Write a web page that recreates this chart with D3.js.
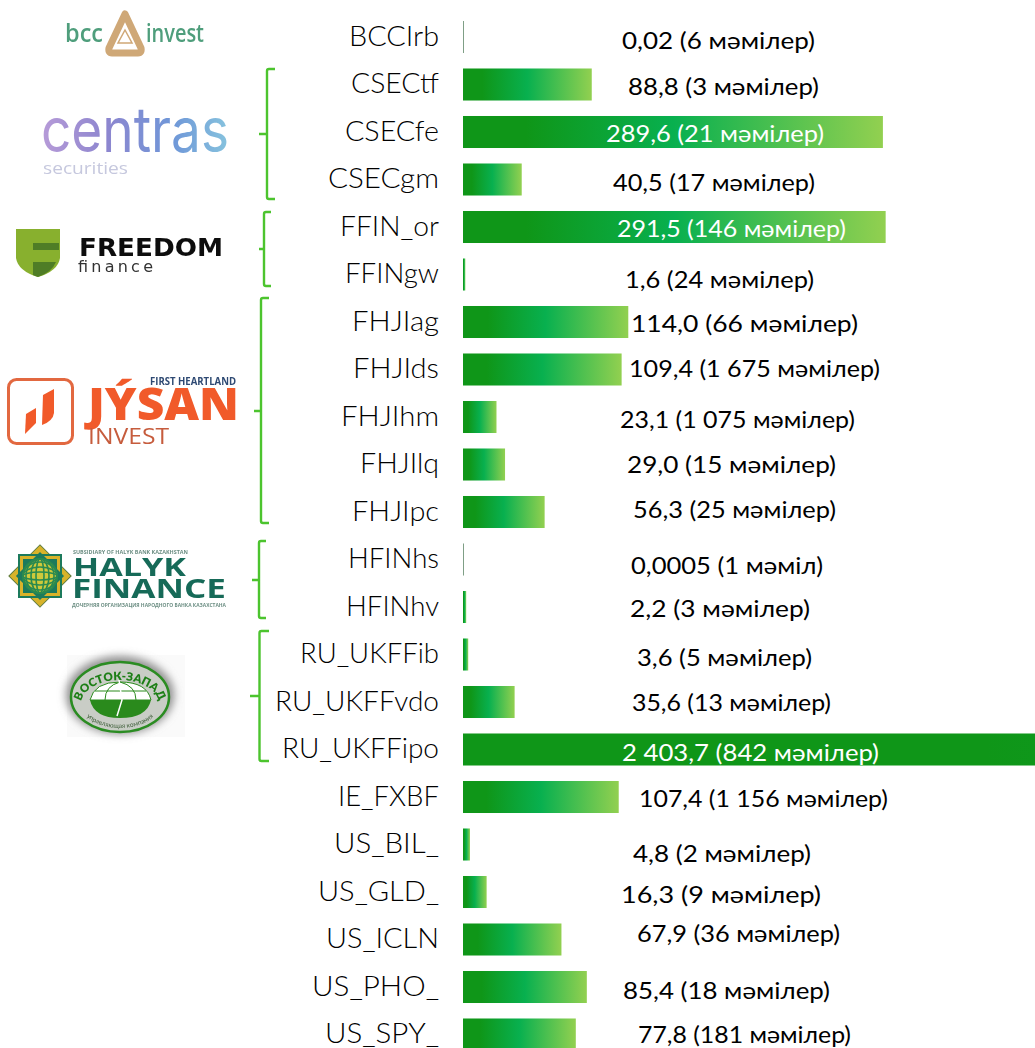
<!DOCTYPE html>
<html>
<head>
<meta charset="utf-8">
<script src="https://cdn.jsdelivr.net/npm/d3@7"></script>
<style>
body { margin: 0; background: #fff; overflow: hidden; }
svg { display: block; }
text { font-family: "Lato", "Open Sans", sans-serif; }
</style>
</head>
<body>
<div id="chart"></div>
<script>
const tickers = ["BCCIrb", "CSECtf", "CSECfe", "CSECgm", "FFIN_or", "FFINgw", "FHJIag", "FHJIds", "FHJIhm", "FHJIlq", "FHJIpc", "HFINhs", "HFINhv", "RU_UKFFib", "RU_UKFFvdo", "RU_UKFFipo", "IE_FXBF", "US_BIL_", "US_GLD_", "US_ICLN", "US_PHO_", "US_SPY_"];
const volumes = [0.02, 88.8, 289.6, 40.5, 291.5, 1.6, 114.0, 109.4, 23.1, 29.0, 56.3, 0.0005, 2.2, 3.6, 35.6, 2403.7, 107.4, 4.8, 16.3, 67.9, 85.4, 77.8];
const volumeLabels = ["0,02", "88,8", "289,6", "40,5", "291,5", "1,6", "114,0", "109,4", "23,1", "29,0", "56,3", "0,0005", "2,2", "3,6", "35,6", "2 403,7", "107,4", "4,8", "16,3", "67,9", "85,4", "77,8"];
const deals = ["6", "3", "21", "17", "146", "24", "66", "1 675", "1 075", "15", "25", "1", "3", "5", "13", "842", "1 156", "2", "9", "36", "18", "181"];

// hand placed labels, they don't follow the bars in the original
const labelLeft = [622, 628, 606, 613, 617, 625, 631, 629, 620, 627, 633, 631, 630, 637, 632, 622, 639, 633, 621, 637, 623, 638];
const labelWidth = [193, 191, 218, 202, 229, 189, 227, 251, 235, 209, 203, 192, 180, 175, 199, 257, 249, 178, 200, 203, 207, 213];
const labelMiddle = [40, 86, 133, 182, 228, 279, 323, 368, 419, 464, 509, 565, 608, 657, 702, 752, 798, 853, 894, 933, 990, 1034];
const tickerWidth = [90, 88, 94, 111, 99, 94, 87, 86, 98, 79, 87, 91, 93, 139, 164, 157, 101, 105, 121, 113, 127, 114];

const width = 1035;
const height = 1048;

const svg = d3
	.select("#chart")
	.append("svg")
	.attr("width", width)
	.attr("height", height);

const defs = svg.append("defs");

const y = d3
	.scaleBand()
	.domain(tickers)
	.range([13.25, 1058.25])
	.paddingInner(0.326)
	.paddingOuter(0.163);

// axis is cut on the right, the ipo bar runs off the page
const x = d3.scaleLinear().domain([0, 394.5]).range([463, 1035]);

const barWidth = (v) => Math.max(1, Math.min(x(v), width) - x(0));

const rows = tickers.map((t, i) => ({
	ticker: t,
	tickerLen: tickerWidth[i],
	value: volumes[i],
	text: `${volumeLabels[i]} (${deals[i]} ${deals[i] === "1" ? "мәміл" : "мәмілер"})`,
	left: labelLeft[i],
	textWidth: labelWidth[i],
	middle: labelMiddle[i],
	inside: i === 2 || i === 4 || i === 15,
	id: "bar-grad-" + i,
}));

// Gradients run over the full value so the cut bar stays dark
const grads = defs
	.selectAll("linearGradient.bar")
	.data(rows)
	.enter()
	.append("linearGradient")
	.attr("class", "bar")
	.attr("id", (d) => d.id)
	.attr("gradientUnits", "userSpaceOnUse")
	.attr("x1", x(0))
	.attr("x2", (d) => x(0) + Math.max(1, x(d.value) - x(0)))
	.attr("y1", 0)
	.attr("y2", 0);
[
	[0.15, "#0f9618"],
	[0.5, "#08b04f"],
	[1, "#92d050"],
].forEach(([o, c]) => grads.append("stop").attr("offset", o).attr("stop-color", c));

const chart = svg.append("g").attr("class", "bars");

chart
	.selectAll("rect")
	.data(rows)
	.enter()
	.append("rect")
	.attr("x", x(0))
	.attr("y", (d) => y(d.ticker))
	.attr("width", (d) => barWidth(d.value))
	.attr("height", y.bandwidth())
	.attr("fill", (d) => (d.value < 0.1 ? "#7f9f86" : `url(#${d.id})`));

chart
	.selectAll("text.ticker")
	.data(rows)
	.enter()
	.append("text")
	.attr("class", "ticker")
	.attr("x", (d) => 439 - d.tickerLen)
	.attr("y", (d) => y(d.ticker) + y.bandwidth() / 2)
	.attr("dy", "0.33em")
	.attr("font-size", 27)
	.attr("font-weight", 300)
	.attr("textLength", (d) => d.tickerLen)
	.attr("lengthAdjust", "spacingAndGlyphs")
	.attr("fill", "#000")
	.text((d) => d.ticker);

chart
	.selectAll("text.value")
	.data(rows)
	.enter()
	.append("text")
	.attr("class", "value")
	.attr("x", (d) => d.left)
	.attr("y", (d) => d.middle)
	.attr("dy", "0.36em")
	.attr("font-size", 24)
	.attr("textLength", (d) => d.textWidth)
	.attr("lengthAdjust", "spacingAndGlyphs")
	.attr("fill", (d) => (d.inside ? "#fff" : "#000"))
	.text((d) => d.text);

// Braces: spine x, top, bottom, hook end, tip x, tip y
const braces = [
	[267, 69, 199, 275, 259, 134],
	[264, 212, 286, 271, 259, 249],
	[261, 298, 523, 269, 254, 411],
	[259, 541, 618, 266, 252, 580],
	[259.5, 631, 761, 269, 250, 696],
];

svg
	.append("g")
	.selectAll("path")
	.data(braces)
	.enter()
	.append("path")
	.attr("fill", "none")
	.attr("stroke", "#4cc42e")
	.attr("stroke-width", 2.4)
	.attr("d", ([sx, top, bottom, hook, tipX, tipY]) =>
		`M${hook},${top}H${sx + 2}Q${sx},${top} ${sx},${top + 2}V${bottom - 2}Q${sx},${bottom} ${sx + 2},${bottom}H${hook}M${tipX},${tipY}H${sx}`
	);

// small helper for the logo text
function logoText(g, str, opts) {
	return g
		.append("text")
		.attr("x", opts.x)
		.attr("y", opts.y)
		.attr("font-size", opts.size)
		.attr("font-weight", opts.weight || 400)
		.attr("fill", opts.fill)
		.attr("textLength", opts.len)
		.attr("lengthAdjust", opts.adjust || "spacingAndGlyphs")
		.style("font-family", opts.family || '"Open Sans", sans-serif')
		.text(str);
}

const soft = defs.append("filter").attr("id", "soft");
soft.append("feGaussianBlur").attr("stdDeviation", 0.5);
const fuzzy = defs.append("filter").attr("id", "fuzzy").attr("x", "-20%").attr("y", "-20%").attr("width", "140%").attr("height", "140%");
fuzzy.append("feGaussianBlur").attr("stdDeviation", 4);

const logos = svg.append("g").attr("class", "logos").attr("filter", "url(#soft)");

// bcc invest
const bcc = logos.append("g");
logoText(bcc, "bcc", { x: 65, y: 42, size: 25, weight: 600, fill: "#4f9e7c", len: 38 });
logoText(bcc, "invest", { x: 146, y: 42, size: 25, weight: 600, fill: "#4f9e7c", len: 58 });
bcc.append("path")
	.attr("d", "M125,14 L141,48 Q142,53 138,53 L112,53 Q108,53 109,48 Z")
	.attr("fill", "none")
	.attr("stroke", "#cfa877")
	.attr("stroke-width", 7)
	.attr("stroke-linejoin", "round");
bcc.append("path")
	.attr("d", "M125,30 L132,43 H118 Z")
	.attr("fill", "#fff")
	.attr("stroke", "#cfa877")
	.attr("stroke-width", 1.5);

// centras
const centrasGrad = defs.append("linearGradient").attr("id", "centras-grad");
[
	[0, "#b79bd8"],
	[0.35, "#8d86cf"],
	[0.7, "#6f97d8"],
	[1, "#86c3de"],
].forEach(([o, c]) => centrasGrad.append("stop").attr("offset", o).attr("stop-color", c));
const centras = logos.append("g");
logoText(centras, "centras", { x: 41, y: 152, size: 63, weight: 400, fill: "url(#centras-grad)", len: 188, family: "Inter, sans-serif" });
logoText(centras, "securities", { x: 43, y: 174, size: 16, fill: "#c6c8de", len: 85 });

// freedom finance
const freedom = logos.append("g");
freedom.append("path")
	.attr("d", "M16,229 H60 V258 Q58,271 38,277 Q18,271 16,258 Z")
	.attr("fill", "#88b02f");
freedom.append("path").attr("d", "M33,243 H59 V250 H33 Z").attr("fill", "#4f7d25");
freedom.append("path").attr("d", "M33,262 H56 Q52,272 38,277 Q35,276 33,275 Z").attr("fill", "#4f7d25");
logoText(freedom, "FREEDOM", { x: 79, y: 256, size: 24, weight: 700, fill: "#0c0c0c", len: 144, family: '"DejaVu Sans", sans-serif' });
logoText(freedom, "finance", { x: 78, y: 272, size: 16, fill: "#333", len: 75, adjust: "spacing", family: '"DejaVu Sans", sans-serif' });

// jysan
const jysan = logos.append("g");
jysan.append("rect")
	.attr("x", 8.5)
	.attr("y", 379.5)
	.attr("width", 64)
	.attr("height", 64)
	.attr("rx", 8)
	.attr("fill", "none")
	.attr("stroke", "#e2673f")
	.attr("stroke-width", 3);
jysan.append("path").attr("d", "M43,395 L54,389 V413 Q53,421 42,425 Z").attr("fill", "#f15a29");
jysan.append("path").attr("d", "M26,414 L36,408 V423 L25,434 Z").attr("fill", "#f15a29");
logoText(jysan, "JÝSAN", { x: 88, y: 420, size: 45, weight: 800, fill: "#f15a29", len: 151 });
logoText(jysan, "FIRST  HEARTLAND", { x: 150, y: 385, size: 10, weight: 700, fill: "#2f4a73", len: 86 });
logoText(jysan, "INVEST", { x: 88, y: 444, size: 22, weight: 500, fill: "#c65b3c", len: 81 });

// halyk finance
const halyk = logos.append("g");
halyk.append("rect").attr("x", 18).attr("y", 554).attr("width", 44).attr("height", 44).attr("fill", "#d8b32c").attr("stroke", "#5d7a3a").attr("stroke-width", 1).attr("transform", "rotate(45 40 576)");
halyk.append("rect").attr("x", 19).attr("y", 555).attr("width", 42).attr("height", 42).attr("fill", "#d8b32c").attr("stroke", "#1c7a5c").attr("stroke-width", 2);
[0, 45].forEach((a) => {
	halyk.append("rect").attr("x", 23).attr("y", 559).attr("width", 34).attr("height", 34).attr("fill", "#1c7a5c").attr("transform", `rotate(${a} 40 576)`);
});
halyk.append("circle").attr("cx", 40).attr("cy", 576).attr("r", 17).attr("fill", "#cfc93a");
const mesh = halyk.append("g").attr("fill", "none").attr("stroke", "#2a8a50").attr("stroke-width", 1.6);
[4, 9, 14, 17].forEach((d) => {
	mesh.append("ellipse").attr("cx", 40).attr("cy", 576).attr("rx", d).attr("ry", 17);
	mesh.append("ellipse").attr("cx", 40).attr("cy", 576).attr("rx", 17).attr("ry", d);
});
logoText(halyk, "SUBSIDIARY OF HALYK BANK KAZAKHSTAN", { x: 73, y: 554, size: 5, weight: 700, fill: "#6d8f84", len: 115 });
logoText(halyk, "HALYK", { x: 73, y: 576, size: 25, weight: 700, fill: "#176a58", len: 113 });
logoText(halyk, "FINANCE", { x: 72, y: 598, size: 27, weight: 700, fill: "#176a58", len: 154 });
logoText(halyk, "ДОЧЕРНЯЯ ОРГАНИЗАЦИЯ НАРОДНОГО БАНКА КАЗАХСТАНА", { x: 72, y: 607, size: 5, weight: 700, fill: "#6d8f84", len: 154 });

// vostok-zapad
const vostok = logos.append("g");
vostok.append("rect").attr("x", 67).attr("y", 655).attr("width", 118).attr("height", 82).attr("fill", "#fafafa");
vostok.append("ellipse").attr("cx", 120).attr("cy", 695).attr("rx", 54).attr("ry", 39).attr("fill", "#8f8f8f").attr("filter", "url(#fuzzy)");
vostok.append("ellipse").attr("cx", 120).attr("cy", 697).attr("rx", 49).attr("ry", 35).attr("fill", "#c9cdc6").attr("stroke", "#2a8c20").attr("stroke-width", 2.5);
vostok.append("path").attr("d", "M90,700 H151 Q147,718 120,718 Q94,718 90,700 Z").attr("fill", "#2a8a1c");
const globe = vostok.append("g").attr("fill", "#fff").attr("stroke", "#2a8a1c").attr("stroke-width", 1);
globe.append("path").attr("d", "M90,700 Q94,682 120,682 Q147,682 151,700 Z");
globe.append("path").attr("d", "M105,700 Q105,686 120,682 Q136,686 136,700 M95,691 H146").attr("fill", "none");
vostok.append("path").attr("d", "M119,680 L122,700 L117,716").attr("fill", "none").attr("stroke", "#fff").attr("stroke-width", 1.5);
defs.append("path").attr("id", "vostok-top").attr("d", "M81,704 A39,24 0 0 1 159,704");
defs.append("path").attr("id", "vostok-bottom").attr("d", "M80,703 A40,25 0 0 0 160,703");
vostok.append("text")
	.attr("font-size", 11.5)
	.attr("font-weight", 800)
	.attr("fill", "#1f7f18")
	.append("textPath")
	.attr("href", "#vostok-top")
	.attr("startOffset", "50%")
	.attr("text-anchor", "middle")
	.text("ВОСТОК-ЗАПАД");
vostok.append("text")
	.attr("font-size", 6.5)
	.attr("fill", "#3f5f3a")
	.append("textPath")
	.attr("href", "#vostok-bottom")
	.attr("startOffset", "50%")
	.attr("text-anchor", "middle")
	.text("управляющая компания");
</script>
</body>
</html>
